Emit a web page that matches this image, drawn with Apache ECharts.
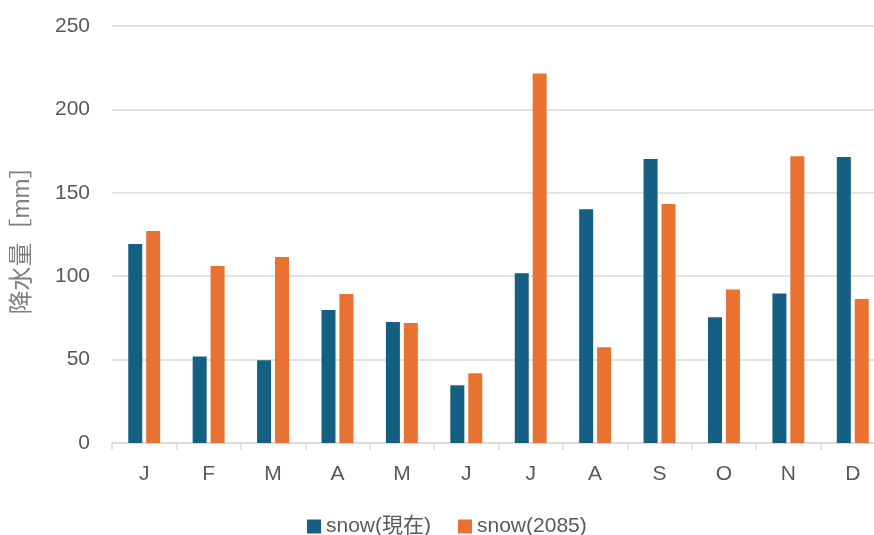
<!DOCTYPE html>
<html><head><meta charset="utf-8">
<script src="https://cdn.jsdelivr.net/npm/echarts@6/dist/echarts.min.js"></script>
<style>html,body{margin:0;padding:0;background:#fff}#c{width:874px;height:535px}</style>
</head><body><div id="c"></div>
<script>
const categories = ['J','F','M','A','M','J','J','A','S','O','N','D'];
const snowNow = [119.3, 51.9, 49.6, 79.7, 72.6, 34.6, 101.7, 140.1, 170.3, 75.4, 89.7, 171.5];
const snow2085 = [127.1, 106.1, 111.5, 89.3, 72.0, 41.8, 221.5, 57.4, 143.3, 92.1, 171.9, 86.3];
const seriesNames = ['snow(現在)', 'snow(2085)'];
const yAxisName = '降水量［mm］';

const font = '"Liberation Sans", Arial, "Noto Sans CJK JP", sans-serif';
const chart = echarts.init(document.getElementById('c'));
chart.setOption({
  animation: false,
  textStyle: { fontFamily: font },
  grid: { left: 112, width: 773, top: 26, bottom: 92, outerBoundsMode: 'none', containLabel: false },
  legend: {
    top: 511, left: 302, itemWidth: 14, itemHeight: 14, itemGap: 27,
    icon: 'rect',
    textStyle: { fontSize: 21, color: '#595959', fontFamily: font }
  },
  xAxis: {
    type: 'category', data: categories,
    axisLine: { lineStyle: { color: '#d9d9d9', width: 1.5 } },
    axisTick: { show: true, length: 7, lineStyle: { color: '#d9d9d9', width: 1.5 } },
    axisLabel: { fontSize: 21, color: '#595959', margin: 21 }
  },
  yAxis: {
    type: 'value', min: 0, max: 250, interval: 50,
    name: yAxisName, nameLocation: 'middle', nameGap: 78,
    nameTextStyle: { fontSize: 24, color: '#7f7f7f', fontFamily: font },
    axisLine: { show: false }, axisTick: { show: false },
    axisLabel: { fontSize: 21, color: '#595959', margin: 22 },
    splitLine: { lineStyle: { color: '#d9d9d9', width: 1.5 } }
  },
  series: [
    { name: seriesNames[0], type: 'bar', data: snowNow, barWidth: 14, barGap: '28%',
      itemStyle: { color: '#156082' } },
    { name: seriesNames[1], type: 'bar', data: snow2085, barWidth: 14, barGap: '28%',
      itemStyle: { color: '#E97132' } }
  ]
});
</script></body></html>
